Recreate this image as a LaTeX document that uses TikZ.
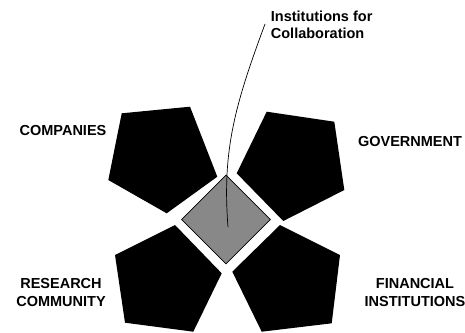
\documentclass[tikz,border=0pt]{standalone}
\usepackage{fontspec}
\setmainfont{Liberation Sans}
\usetikzlibrary{shapes.geometric}
\definecolor{diagray}{RGB}{136,136,136}
\begin{document}
\begin{tikzpicture}[x=1pt,y=-1pt,
  pent/.style={fill=black},
  dia/.style={shape=diamond, fill=diagray, draw=black, line width=0.6pt,
    minimum width=89pt, minimum height=89pt, inner sep=0pt, aspect=1},
  lbl/.style={font=\fontsize{14.5}{18}\selectfont\bfseries, inner sep=0pt, align=center},
  lblt/.style={font=\fontsize{14.5}{16.7}\selectfont\bfseries, inner sep=0pt, align=left},
  lead/.style={draw=black, line width=0.7pt}]
\useasboundingbox (0,0) rectangle (465,332);
% pentagons
\fill[pent] (121.7,113.3) -- (190,106.7) -- (217.3,176.7) -- (166.7,213.3) -- (108.3,180) -- cycle;
\fill[pent] (266.7,111.7) -- (334.3,121.7) -- (344.3,190) -- (283.3,221) -- (236.7,173.3) -- cycle;
\fill[pent] (115,255) -- (175,225) -- (221.7,273.3) -- (193.3,331.7) -- (125,322.7) -- cycle;
\fill[pent] (280,225) -- (340,255) -- (331.7,323.3) -- (261.7,331.7) -- (232.3,271.7) -- cycle;
% central diamond
\node[dia] (core) at (226,219.5) {};
% labels
\node[lbl, anchor=base] (comp) at (63,135.5) {COMPANIES};
\node[lbl, anchor=base] (gov) at (410,146.7) {GOVERNMENT};
\node[lbl, anchor=north] (res) at (61,277.7) {RESEARCH\\COMMUNITY};
\node[lbl, anchor=north] (fin) at (415,277.7) {FINANCIAL\\INSTITUTIONS};
\node[lblt, anchor=north west] (inst) at (270.7,10.7) {Institutions for\\Collaboration};
% leader line
\coordinate (cin) at (228,227);
\coordinate (cend) at (265,24);
\draw[lead] (cin) .. controls (222,150) and (235,105) .. (cend);
\end{tikzpicture}
\end{document}
